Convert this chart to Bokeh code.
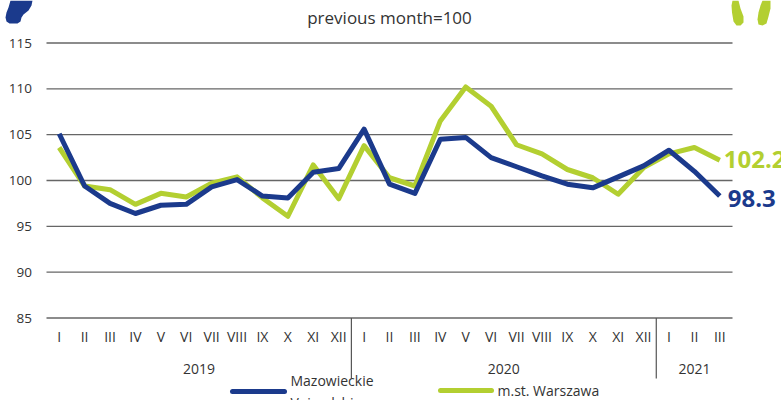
from bokeh.plotting import figure
from bokeh.models import Range1d
from bokeh.core.properties import value
from bokeh.embed import file_html
from bokeh.resources import INLINE

# ---------------- data ----------------
months = ["I", "II", "III", "IV", "V", "VI", "VII", "VIII", "IX", "X", "XI", "XII",
          "I", "II", "III", "IV", "V", "VI", "VII", "VIII", "IX", "X", "XI", "XII",
          "I", "II", "III"]
years = ["2019", "2020", "2021"]
year_months = [12, 12, 3]
mazowieckie = [105.1, 99.4, 97.5, 96.4, 97.3, 97.4, 99.3, 100.1, 98.3, 98.1, 100.9, 101.3,
               105.6, 99.6, 98.6, 104.5, 104.7, 102.5, 101.5, 100.5, 99.6, 99.2, 100.4, 101.6,
               103.3, 101.0, 98.3]
warszawa = [103.6, 99.4, 99.0, 97.4, 98.6, 98.2, 99.7, 100.4, 98.1, 96.1, 101.7, 98.0,
            103.8, 100.3, 99.4, 106.5, 110.2, 108.1, 103.9, 102.9, 101.2, 100.3, 98.5, 101.4,
            102.9, 103.6, 102.2]
y_ticks = [85, 90, 95, 100, 105, 110, 115]
series_names = ["Mazowieckie\nVoivodship", "m.st. Warszawa"]
title_text = "previous month=100"

# ---------------- styling / geometry ----------------
BLUE = "#1b3a8c"
GREEN = "#b3cf31"
GRID = "#666666"
TXT = "#333333"
FONT = value("Open Sans")

W, H = 781, 400
MARGIN = 0
n = len(months)
SX0, SX1 = 46.0, 732.0          # picture-pixel x of category band edges
DX = (SX1 - SX0) / n
YLO, YHI = min(y_ticks), max(y_ticks)
SYLO, SYHI = 317.5, 42.5        # picture-pixel y of 85 and 115
DY = (SYLO - SYHI) / (YHI - YLO)


def px(sx):
    return (sx - SX0) / DX


def py(sy):
    return YLO + (SYLO - sy) / DY


p = figure(width=W, height=H, output_backend="svg", toolbar_location=None,
           x_axis_type=None, y_axis_type=None, min_border=0,
           x_range=Range1d(px(MARGIN), px(MARGIN + W)),
           y_range=Range1d(py(MARGIN + H), py(MARGIN)))
p.outline_line_color = None
p.background_fill_color = "white"
p.border_fill_color = "white"

# gridlines
p.segment(x0=[0] * len(y_ticks), x1=[n] * len(y_ticks), y0=y_ticks, y1=y_ticks,
          line_color=GRID, line_width=1.3)
# y tick labels
p.text(x=[px(31.5)] * len(y_ticks), y=y_ticks, text=[str(t) for t in y_ticks],
       text_font=FONT, text_font_size="13.5px", text_color=TXT,
       text_align="right", text_baseline="middle")

# month labels
xc = [i + 0.5 for i in range(n)]
p.text(x=xc, y=[py(336)] * n, text=months, text_font=FONT, text_font_size="14px",
       text_color=TXT, text_align="center", text_baseline="middle")

# year labels and separators
starts, cum = [], 0
for c in year_months:
    starts.append(cum)
    cum += c
yx = [s + c / 2 for s, c in zip(starts, year_months)]
p.text(x=yx, y=[py(368)] * len(years), text=years, text_font=FONT, text_font_size="14px",
       text_color=TXT, text_align="center", text_baseline="middle")
seps = starts[1:]
p.segment(x0=seps, x1=seps, y0=[YLO] * len(seps), y1=[py(378)] * len(seps),
          line_color="#555555", line_width=1.2)

# series lines
p.line(xc, warszawa, line_color=GREEN, line_width=5, line_join="round")
p.line(xc, mazowieckie, line_color=BLUE, line_width=5, line_join="round")

# end labels
p.text(x=[xc[-1]], y=[warszawa[-1]], text=[f"{warszawa[-1]:.1f}"], x_offset=4, y_offset=-1,
       text_font=FONT, text_font_size="24px", text_font_style="bold", text_color=GREEN,
       text_align="left", text_baseline="middle")
p.text(x=[xc[-1]], y=[mazowieckie[-1]], text=[f"{mazowieckie[-1]:.1f}"], x_offset=8, y_offset=2,
       text_font=FONT, text_font_size="24px", text_font_style="bold", text_color=BLUE,
       text_align="left", text_baseline="middle")

# title
p.text(x=[px(389)], y=[py(17)], text=[title_text], text_font=FONT, text_font_size="17px",
       text_color=TXT, text_align="center", text_baseline="middle")

# legend (drawn manually at the bottom)
p.segment(x0=[px(232)], x1=[px(284)], y0=[py(391)], y1=[py(391)],
          line_color=BLUE, line_width=5, line_cap="round")
p.text(x=[px(290)], y=[py(391)], text=[series_names[0]], text_font=FONT, text_font_size="14px",
       text_color=TXT, text_align="left", text_baseline="middle", text_line_height=1.15)
p.segment(x0=[px(440)], x1=[px(491)], y0=[py(390)], y1=[py(390)],
          line_color=GREEN, line_width=5, line_cap="round")
p.text(x=[px(497)], y=[py(390)], text=[series_names[1]], text_font=FONT, text_font_size="14px",
       text_color=TXT, text_align="left", text_baseline="middle")

# decorative quote marks in the corners
blob = [(10, 0), (32, 0), (31, 5), (28, 10), (23, 14), (21, 17), (20, 21), (17, 23),
        (9, 23), (6, 21), (5, 17), (6, 12), (8, 7)]
q1 = [(732, 0), (738, 0), (740, 8), (743, 16), (743, 22), (740, 25), (736, 25),
      (733, 21), (731.5, 12), (731, 5)]
q2 = [(762, 0), (770, 0), (770, 8), (768, 16), (766, 23), (762, 25), (758, 24),
      (757, 19), (758, 12), (760, 5)]
p.patches(xs=[[px(a) for a, b in s] for s in (blob, q1, q2)],
          ys=[[py(b) for a, b in s] for s in (blob, q1, q2)],
          fill_color=[BLUE, GREEN, GREEN], line_color=None)

open("out.html", "w").write(file_html(p, INLINE))
